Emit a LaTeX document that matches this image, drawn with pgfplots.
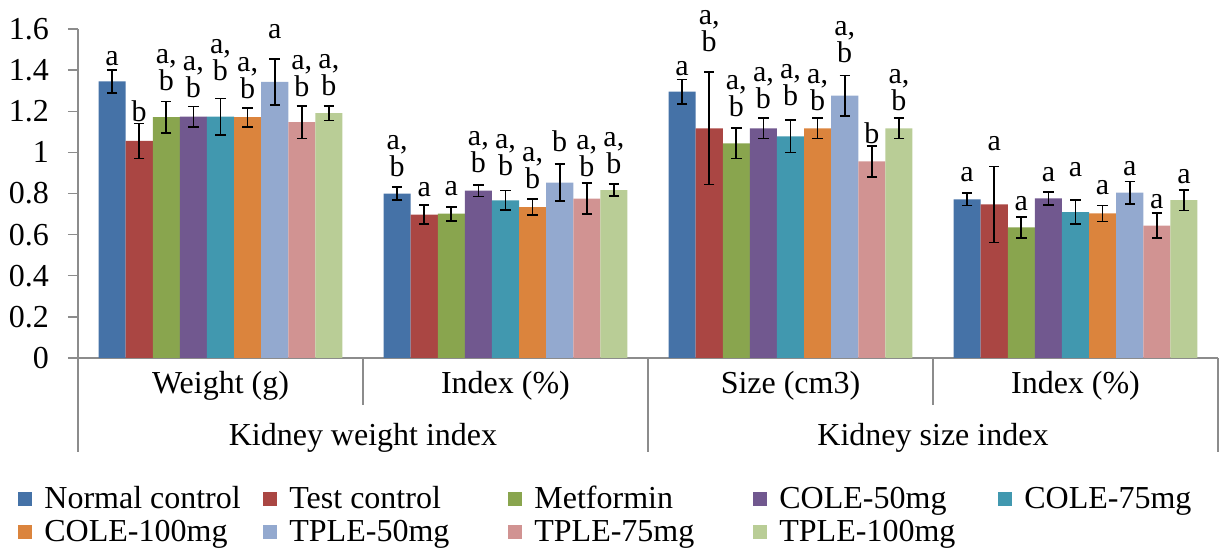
\documentclass[border=0pt]{standalone}
\usepackage{pgfplots}
\pgfplotsset{compat=1.18}
\usepackage{pgfplotstable}
\usepackage{fontspec}
\setmainfont{Liberation Serif}

\definecolor{cA}{HTML}{4572A7}
\definecolor{cB}{HTML}{AA4643}
\definecolor{cC}{HTML}{89A54E}
\definecolor{cD}{HTML}{71588F}
\definecolor{cE}{HTML}{4198AF}
\definecolor{cF}{HTML}{DB843D}
\definecolor{cG}{HTML}{93A9CF}
\definecolor{cH}{HTML}{D19392}
\definecolor{cI}{HTML}{B9CD96}
\definecolor{axgray}{HTML}{8C8C8C}

\def\laba{a}\def\labb{b}\def\labab{a,\\b}

% gap = distance (in 0.5pt units) between the error-bar top and the letter label
\pgfplotstableread{
x y err lab gap
0 1.345 0.055 a 3
1 0.799 0.032 ab 9
2 1.295 0.060 a 2
3 0.772 0.030 a 10
}\tA
\pgfplotstableread{
x y err lab gap
0 1.056 0.085 b 0
1 0.697 0.046 a 7
2 1.117 0.273 ab 19
3 0.747 0.185 a 14
}\tB
\pgfplotstableread{
x y err lab gap
0 1.171 0.077 ab 9
1 0.702 0.034 a 9
2 1.044 0.074 ab 10
3 0.635 0.051 a 5
}\tC
\pgfplotstableread{
x y err lab gap
0 1.174 0.049 ab 7
1 0.814 0.029 ab 10
2 1.117 0.049 ab 8
3 0.776 0.033 a 8
}\tD
\pgfplotstableread{
x y err lab gap
0 1.174 0.088 ab 16
1 0.767 0.048 ab 13
2 1.078 0.079 ab 13
3 0.710 0.058 a 22
}\tE
\pgfplotstableread{
x y err lab gap
0 1.171 0.046 ab 8
1 0.734 0.039 ab 9
2 1.117 0.049 ab 6
3 0.703 0.039 a 9
}\tF
\pgfplotstableread{
x y err lab gap
0 1.343 0.111 a 19
1 0.853 0.091 b 11
2 1.276 0.098 ab 11
3 0.804 0.055 a 4
}\tG
\pgfplotstableread{
x y err lab gap
0 1.147 0.079 ab 8
1 0.775 0.076 ab 5
2 0.956 0.074 b 1
3 0.644 0.062 a 3
}\tH
\pgfplotstableread{
x y err lab gap
0 1.191 0.036 ab 9
1 0.817 0.029 ab 9
2 1.117 0.049 ab 6
3 0.768 0.050 a 5
}\tI

\newcommand\lbl[1]{\hspace{4pt}\makebox[107.5pt][l]{#1}}

\begin{document}
\begin{tikzpicture}
\begin{axis}[
  x=142.5pt, y=102.8pt,
  xmin=-0.5, xmax=3.5, ymin=0, ymax=1.6,
  ybar=0pt, bar width=13.55pt,
  axis x line*=bottom, axis y line*=left,
  axis line style={axgray, line width=0.7pt},
  xtick=\empty,
  ytick={0,0.2,0.4,0.6,0.8,1,1.2,1.4,1.6},
  yticklabel style={font=\fontsize{16}{18}\selectfont, xshift=-6pt, /pgf/number format/assume math mode=true, /pgf/number format/fixed},
  major tick length=5pt, tick align=outside,
  tick style={axgray, line width=0.7pt},
  clip=false,
  point meta=explicit symbolic,
  nodes near coords={\csname lab\pgfplotspointmeta\endcsname},
  visualization depends on={\thisrow{err} \as \myerr},
  visualization depends on={\thisrow{gap} \as \mygap},
  every node near coord/.append style={anchor=south, text=black, align=center, inner sep=0pt,
     font=\fontsize{15}{13.5}\selectfont, yshift={\myerr*102.8pt+\mygap*0.5pt+0.5pt}},
  error bars/y dir=both, error bars/y explicit,
  error bars/error bar style={black, line width=0.85pt},
  error bars/error mark options={black, line width=0.85pt, mark size=2.6pt, rotate=90},
  legend columns=5,
  legend style={at={(axis description cs:0,0)}, anchor=north west, xshift=-30pt, yshift=-62pt,
     draw=none, fill=none, font=\fontsize{16}{18}\selectfont, inner sep=0pt,
     /tikz/every even column/.append style={column sep=0pt}, row sep=0pt},
  legend image code/.code={\fill[#1] (0pt,-3.5pt) rectangle (7pt,3.5pt);},
]
\addplot[fill=cA, draw=none] table[x=x, y=y, y error=err, meta=lab] {\tA};
\addlegendentry{\lbl{Normal control}}
\addplot[fill=cB, draw=none] table[x=x, y=y, y error=err, meta=lab] {\tB};
\addlegendentry{\lbl{Test control}}
\addplot[fill=cC, draw=none] table[x=x, y=y, y error=err, meta=lab] {\tC};
\addlegendentry{\lbl{Metformin}}
\addplot[fill=cD, draw=none] table[x=x, y=y, y error=err, meta=lab] {\tD};
\addlegendentry{\lbl{COLE-50mg}}
\addplot[fill=cE, draw=none] table[x=x, y=y, y error=err, meta=lab] {\tE};
\addlegendentry{\hspace{4pt}COLE-75mg}
\addplot[fill=cF, draw=none] table[x=x, y=y, y error=err, meta=lab] {\tF};
\addlegendentry{\lbl{COLE-100mg}}
\addplot[fill=cG, draw=none] table[x=x, y=y, y error=err, meta=lab] {\tG};
\addlegendentry{\lbl{TPLE-50mg}}
\addplot[fill=cH, draw=none] table[x=x, y=y, y error=err, meta=lab] {\tH};
\addlegendentry{\lbl{TPLE-75mg}}
\addplot[fill=cI, draw=none] table[x=x, y=y, y error=err, meta=lab] {\tI};
\addlegendentry{\lbl{TPLE-100mg}}

\coordinate (O) at (axis cs:-0.5,0);
\draw[axgray, line width=0.7pt] (axis cs:-0.5,0) -- ([yshift=-47pt]axis cs:-0.5,0);
\draw[axgray, line width=0.7pt] (axis cs:0.5,0) -- ([yshift=-23.5pt]axis cs:0.5,0);
\draw[axgray, line width=0.7pt] (axis cs:1.5,0) -- ([yshift=-47pt]axis cs:1.5,0);
\draw[axgray, line width=0.7pt] (axis cs:2.5,0) -- ([yshift=-23.5pt]axis cs:2.5,0);
\draw[axgray, line width=0.7pt] (axis cs:3.5,0) -- ([yshift=-47pt]axis cs:3.5,0);
\node[font=\fontsize{16}{18}\selectfont] at ([yshift=-14pt]axis cs:0,0) {Weight (g)};
\node[font=\fontsize{16}{18}\selectfont] at ([yshift=-14pt]axis cs:1,0) {Index (\%)};
\node[font=\fontsize{16}{18}\selectfont] at ([yshift=-14pt]axis cs:2,0) {Size (cm3)};
\node[font=\fontsize{16}{18}\selectfont] at ([yshift=-14pt]axis cs:3,0) {Index (\%)};
\node[font=\fontsize{16}{18}\selectfont] at ([yshift=-40pt]axis cs:0.5,0) {Kidney weight index};
\node[font=\fontsize{16}{18}\selectfont] at ([yshift=-40pt]axis cs:2.5,0) {Kidney size index};
\end{axis}
\pgfresetboundingbox
\path (O) ++(-39pt,-95.5pt) rectangle ++(610.5pt,274.5pt);
\end{tikzpicture}
\end{document}
